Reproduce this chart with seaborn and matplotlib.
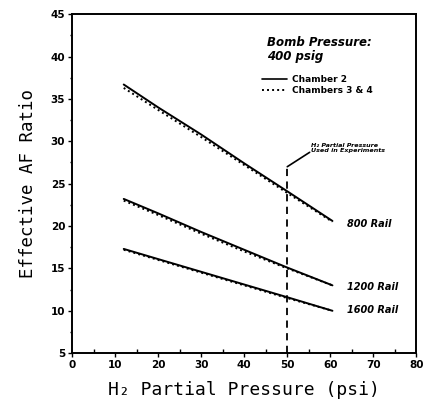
import matplotlib
matplotlib.use("Agg")
import matplotlib.pyplot as plt
from matplotlib.ticker import MultipleLocator
from matplotlib.lines import Line2D
import seaborn as sns
import pandas as pd

# H2 partial pressure (psi) sampled along each curve
pressure = [12, 20, 30, 40, 50, 60.5]

# Effective AF ratio, Chamber 2 (solid) and Chambers 3 & 4 (dotted)
rail_800_ch2 = [36.7, 34.0, 30.8, 27.4, 24.1, 20.6]
rail_800_ch34 = [36.3, 33.7, 30.5, 27.2, 23.9, 20.5]
rail_1200_ch2 = [23.2, 21.5, 19.3, 17.2, 15.1, 13.0]
rail_1200_ch34 = [23.0, 21.3, 19.1, 17.0, 15.0, 13.0]
rail_1600_ch2 = [17.3, 16.1, 14.6, 13.1, 11.6, 10.0]
rail_1600_ch34 = [17.2, 16.0, 14.5, 13.0, 11.5, 10.0]

rail_labels = ["800 Rail", "1200 Rail", "1600 Rail"]
chamber_labels = ["Chamber 2", "Chambers 3 & 4"]

x_ticks = [0, 10, 20, 30, 40, 50, 60, 70, 80]
y_ticks = [5, 10, 15, 20, 25, 30, 35, 40, 45]

experiment_pressure = 50

series = {
    ("800 Rail", "Chamber 2"): rail_800_ch2,
    ("800 Rail", "Chambers 3 & 4"): rail_800_ch34,
    ("1200 Rail", "Chamber 2"): rail_1200_ch2,
    ("1200 Rail", "Chambers 3 & 4"): rail_1200_ch34,
    ("1600 Rail", "Chamber 2"): rail_1600_ch2,
    ("1600 Rail", "Chambers 3 & 4"): rail_1600_ch34,
}
rows = []
for (rail, chamber), values in series.items():
    for p, v in zip(pressure, values):
        rows.append({"pressure": p, "ratio": v, "rail": rail, "chamber": chamber})
df = pd.DataFrame(rows)

sns.set_style("ticks")
plt.rcParams["font.family"] = ["DejaVu Sans"]
plt.rcParams["text.color"] = "black"
plt.rcParams["axes.labelcolor"] = "black"
plt.rcParams["xtick.color"] = "black"
plt.rcParams["ytick.color"] = "black"

dot_style = (1, 1.6)

fig = plt.figure(figsize=(4.24, 4.05), dpi=100)
ax = fig.add_axes([0.170, 0.128, 0.812, 0.837])

sns.lineplot(
    data=df, x="pressure", y="ratio", units="rail", style="chamber",
    estimator=None, color="black", linewidth=1.4,
    dashes={"Chamber 2": "", "Chambers 3 & 4": dot_style},
    style_order=chamber_labels, legend=False, ax=ax,
)

# Pressure used in experiments
ax.plot([experiment_pressure, experiment_pressure], [5, 27.0],
        color="black", linewidth=1.3, dashes=(4, 3))
ax.plot([experiment_pressure, 55.2], [27.0, 28.7], color="black", linewidth=1.2)
ax.text(55.6, 28.6, "H\u2082 Partial Pressure\nUsed in Experiments",
        fontsize=4.6, fontweight="bold", fontstyle="italic", va="bottom",
        linespacing=1.0)

# Rail labels at the curve ends
for label, y in zip(rail_labels, [20.2, 12.8, 10.1]):
    ax.text(63.8, y, label, fontsize=7, fontweight="bold", fontstyle="italic",
            va="center")

ax.text(0.565, 0.935, "Bomb Pressure:\n400 psig", transform=ax.transAxes,
        fontsize=8.5, fontweight="bold", fontstyle="italic", va="top",
        linespacing=1.1)

# Legend for chamber line styles
handles = [Line2D([], [], color="black", linewidth=1.2),
           Line2D([], [], color="black", linewidth=1.4, dashes=dot_style)]
ax.legend(handles, chamber_labels, loc="upper left",
          bbox_to_anchor=(0.54, 0.83), frameon=False,
          prop={"size": 6.5, "weight": "bold"}, handlelength=2.8,
          handletextpad=0.6, labelspacing=0.15, borderaxespad=0)

ax.set_xlim(0, 80)
ax.set_ylim(5, 45)
ax.set_xticks(x_ticks)
ax.set_yticks(y_ticks)
ax.xaxis.set_minor_locator(MultipleLocator(5))
ax.yaxis.set_minor_locator(MultipleLocator(2.5))
ax.tick_params(axis="both", which="major", direction="out", length=3,
               width=1, labelsize=7.5, pad=2)
ax.tick_params(axis="x", which="minor", direction="in", length=3, width=1)
ax.tick_params(axis="y", which="minor", direction="out", length=1.5, width=1)
for lab in ax.get_xticklabels() + ax.get_yticklabels():
    lab.set_fontweight("bold")

for spine in ax.spines.values():
    spine.set_visible(True)
    spine.set_linewidth(1.4)
    spine.set_color("black")

ax.set_xlabel("H\u2082 Partial Pressure (psi)", family="DejaVu Sans Mono",
              fontsize=13, labelpad=8)
ax.set_ylabel("Effective AF Ratio", family="DejaVu Sans Mono",
              fontsize=12.5, labelpad=10)

fig.savefig("out.png", dpi=100)
